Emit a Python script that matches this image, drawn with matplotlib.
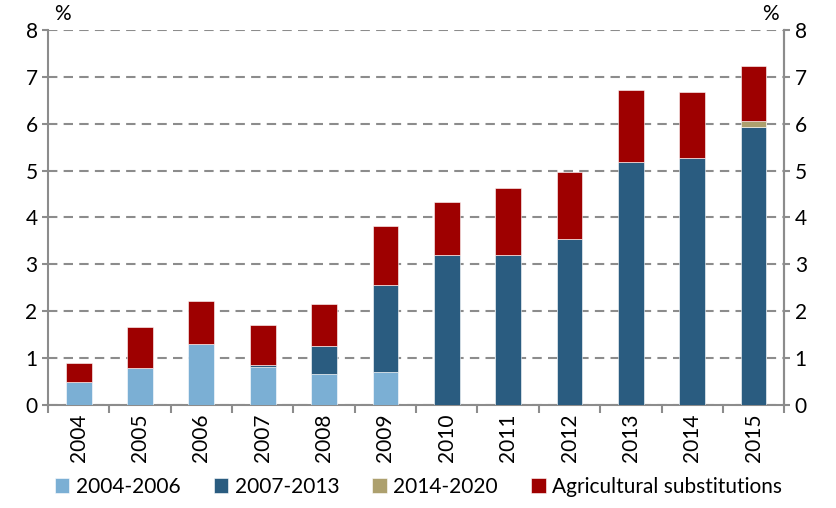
import matplotlib

matplotlib.use("Agg")
import matplotlib.pyplot as plt
import numpy as np
from matplotlib.ticker import FixedLocator

years = ["2004", "2005", "2006", "2007", "2008", "2009",
         "2010", "2011", "2012", "2013", "2014", "2015"]
p2004_2006 = [0.50, 0.79, 1.31, 0.81, 0.67, 0.71, 0, 0, 0, 0, 0, 0]
p2007_2013 = [0, 0, 0, 0.04, 0.59, 1.86, 3.20, 3.20, 3.54, 5.19, 5.27, 5.94]
p2014_2020 = [0, 0, 0, 0, 0, 0, 0, 0, 0, 0, 0, 0.12]
agri_subst = [0.39, 0.88, 0.90, 0.85, 0.89, 1.25, 1.14, 1.43, 1.42, 1.53, 1.40, 1.18]

series = [
    ("2004-2006", p2004_2006, "#7BAFD4"),
    ("2007-2013", p2007_2013, "#2A5C80"),
    ("2014-2020", p2014_2020, "#ADA06E"),
    ("Agricultural substitutions", agri_subst, "#9E0000"),
]

plt.rcParams["font.family"] = ["Lato", "DejaVu Sans"]
axis_grey = "#8C8C8C"
fs = 15

fig = plt.figure(figsize=(8.37, 5.08), dpi=100)
ax = fig.add_axes([0.0573, 0.2028, 0.8797, 0.7382])

x = np.arange(len(years))
bottom = np.zeros(len(years))
for label, values, color in series:
    values = np.array(values)
    ax.bar(x, values, 0.42, bottom=bottom, color=color, label=label,
           edgecolor="white", linewidth=0.4, zorder=3)
    bottom += values

ax.set_xlim(-0.5, len(years) - 0.5)
ax.set_ylim(0, 8)
ax.set_yticks(range(9))
ax.yaxis.grid(True, linestyle=(0, (4.5, 3)), color=axis_grey, linewidth=1.5, zorder=0)

ax.set_xticks(x)
ax.set_xticklabels(years, rotation=90, fontsize=fs)
ax.tick_params(axis="x", which="major", length=0, pad=6)
ax.xaxis.set_minor_locator(FixedLocator(np.arange(-0.5, len(years), 1)))
ax.tick_params(axis="x", which="minor", length=6, width=1.5, color=axis_grey)
ax.tick_params(axis="y", labelsize=fs, length=4, width=1.5, color=axis_grey)

for side in ["left", "bottom", "right"]:
    ax.spines[side].set_color(axis_grey)
    ax.spines[side].set_linewidth(1.5)
ax.spines["top"].set_visible(False)

ax2 = ax.twinx()
ax2.set_ylim(0, 8)
ax2.set_yticks(range(9))
ax2.tick_params(axis="y", labelsize=fs, length=4, width=1.5, color=axis_grey)
for side in ["top", "left", "bottom"]:
    ax2.spines[side].set_visible(False)
ax2.spines["right"].set_color(axis_grey)
ax2.spines["right"].set_linewidth(1.5)

ax.text(0.008, 1.015, "%", transform=ax.transAxes, fontsize=fs, ha="left", va="bottom")
ax.text(0.992, 1.015, "%", transform=ax.transAxes, fontsize=fs, ha="right", va="bottom")

fig.legend(loc="lower center", bbox_to_anchor=(0.5, -0.015), ncol=4, frameon=False,
           fontsize=fs, handlelength=0.7, handleheight=0.7, handletextpad=0.3,
           columnspacing=1.6)

fig.savefig("out.png", dpi=100)
